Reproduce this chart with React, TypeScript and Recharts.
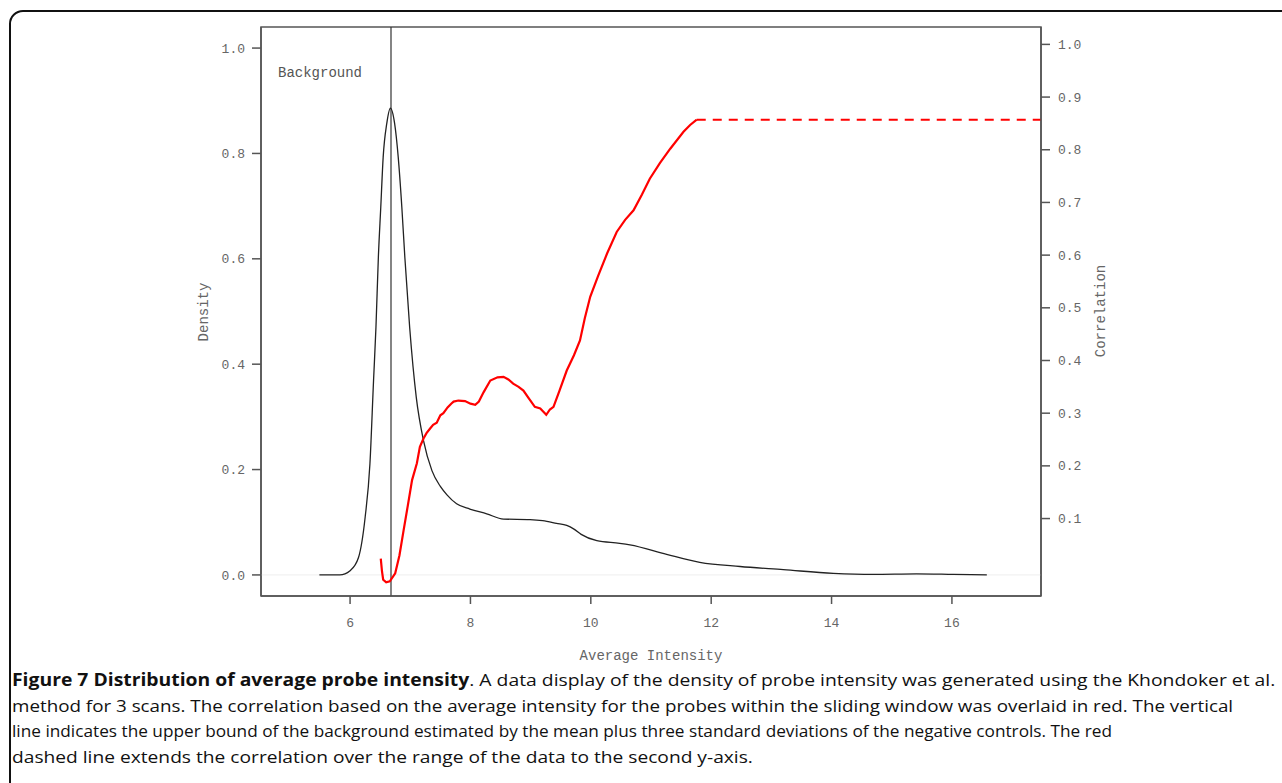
import { LineChart, Line, XAxis, YAxis, ReferenceLine, ReferenceArea } from "recharts";

// density curve (left axis)
const densityX = [5.49, 5.83, 6.0, 6.14, 6.25, 6.33, 6.39, 6.43, 6.47, 6.51, 6.55, 6.61, 6.67, 6.74, 6.8, 6.86, 6.91, 6.99, 7.1, 7.22, 7.36, 7.5, 7.61, 7.77, 7.99, 8.27, 8.55, 8.99, 9.2, 9.43, 9.6, 9.72, 9.84, 10.1, 10.48, 10.65, 11.26, 11.81, 12.48, 13.2, 14.03, 14.69, 15.41, 16.02, 16.58];
const densityY = [0, 0, 0.008, 0.033, 0.109, 0.211, 0.369, 0.47, 0.603, 0.698, 0.793, 0.857, 0.886, 0.857, 0.793, 0.698, 0.603, 0.47, 0.337, 0.255, 0.198, 0.168, 0.152, 0.135, 0.125, 0.116, 0.106, 0.105, 0.103, 0.098, 0.094, 0.087, 0.077, 0.065, 0.06, 0.057, 0.039, 0.024, 0.016, 0.01, 0.003, 0.001, 0.002, 0.001, 0];

// sliding-window correlation (right axis)
const corrX = [6.51, 6.53, 6.55, 6.6, 6.66, 6.75, 6.82, 6.89, 6.96, 7.03, 7.11, 7.16, 7.22, 7.27, 7.33, 7.38, 7.44, 7.5, 7.55, 7.62, 7.68, 7.72, 7.8, 7.91, 8.0, 8.08, 8.14, 8.22, 8.33, 8.45, 8.55, 8.63, 8.71, 8.8, 8.88, 8.97, 9.07, 9.16, 9.26, 9.32, 9.38, 9.48, 9.6, 9.72, 9.82, 9.9, 9.99, 10.12, 10.27, 10.43, 10.57, 10.71, 10.85, 10.98, 11.15, 11.32, 11.54, 11.65, 11.76];
const corrY = [0.024, 0.0, -0.016, -0.021, -0.019, -0.004, 0.03, 0.078, 0.125, 0.173, 0.205, 0.236, 0.252, 0.262, 0.271, 0.278, 0.282, 0.296, 0.3, 0.311, 0.318, 0.322, 0.324, 0.323, 0.318, 0.316, 0.322, 0.34, 0.362, 0.368, 0.369, 0.364, 0.356, 0.35, 0.343, 0.328, 0.312, 0.309, 0.297, 0.307, 0.312, 0.343, 0.381, 0.41, 0.438, 0.48, 0.521, 0.56, 0.603, 0.644, 0.667, 0.685, 0.715, 0.745, 0.775, 0.802, 0.834, 0.847, 0.857];

// dashed extension to the right edge
const extX = [11.76, 17.48];
const extY = [0.857, 0.857];

const xTicks = [6, 8, 10, 12, 14, 16];
const densityTicks = [0, 0.2, 0.4, 0.6, 0.8, 1.0];
const corrTicks = [0.1, 0.2, 0.3, 0.4, 0.5, 0.6, 0.7, 0.8, 0.9, 1.0];
const backgroundCut = 6.68;

const captionLines = [
  "method for 3 scans. The correlation based on the average intensity for the probes within the sliding window was overlaid in red. The vertical",
  "line indicates the upper bound of the background estimated by the mean plus three standard deviations of the negative controls. The red",
  "dashed line extends the correlation over the range of the data to the second y-axis.",
];

const densityData = densityX.map((x, i) => ({ x, y: densityY[i] }));
const corrData = corrX.map((x, i) => ({ x, y: corrY[i] }));
const extData = extX.map((x, i) => ({ x, y: extY[i] }));

const mono = "'Liberation Mono', 'DejaVu Sans Mono', monospace";
const tickStyle = { fontFamily: mono, fontSize: 13, fill: "#666" };

const lineStyle = (top: number, sx: number) => ({
  position: "absolute" as const,
  left: 12,
  top,
  transform: `scaleX(${sx})`,
  transformOrigin: "left center",
  whiteSpace: "nowrap" as const,
});

export default function App() {
  return (
    <div style={{ position: "fixed", left: 0, top: 0, width: 1282, height: 783, overflow: "hidden", background: "#fff" }}>
      <div
        style={{
          position: "absolute",
          left: 9,
          top: 10,
          width: 1320,
          height: 820,
          border: "2px solid #111",
          borderRadius: 14,
        }}
      />
      <div style={{ position: "absolute", left: 0, top: 0 }}>
        <LineChart width={1282} height={660} margin={{ top: 27, right: 181, left: 201, bottom: 24 }}>
          <XAxis
            dataKey="x"
            type="number"
            domain={[4.52, 17.48]}
            allowDataOverflow
            ticks={xTicks}
            tickSize={8}
            tickMargin={14}
            height={40}
            stroke="#555"
            strokeWidth={1.5}
            tick={tickStyle}
          />
          <YAxis
            yAxisId="d"
            type="number"
            domain={[-0.04, 1.04]}
            allowDataOverflow
            ticks={densityTicks}
            tickFormatter={(v) => v.toFixed(1)}
            tickSize={9}
            tickMargin={7}
            width={60}
            stroke="#555"
            strokeWidth={1.5}
            tick={tickStyle}
          />
          <YAxis
            yAxisId="c"
            orientation="right"
            type="number"
            domain={[-0.047, 1.033]}
            allowDataOverflow
            ticks={corrTicks}
            tickFormatter={(v) => v.toFixed(1)}
            tickSize={9}
            tickMargin={8}
            width={60}
            stroke="#555"
            strokeWidth={1.5}
            tick={tickStyle}
          />
          <ReferenceArea yAxisId="d" x1={4.52} x2={17.48} y1={-0.04} y2={1.04} fill="none" stroke="#555" strokeWidth={1.5} />
          <ReferenceLine yAxisId="d" y={0} stroke="#eee" strokeWidth={1} />
          <ReferenceLine yAxisId="d" x={backgroundCut} stroke="#333" strokeWidth={1.2} />
          <Line
            yAxisId="d"
            data={densityData}
            dataKey="y"
            type="monotone"
            stroke="#222"
            strokeWidth={1.3}
            dot={false}
            isAnimationActive={false}
          />
          <Line
            yAxisId="c"
            data={corrData}
            dataKey="y"
            type="linear"
            stroke="#ff0000"
            strokeWidth={2.2}
            dot={false}
            isAnimationActive={false}
          />
          <Line
            yAxisId="c"
            data={extData}
            dataKey="y"
            type="linear"
            stroke="#ff0000"
            strokeWidth={2.2}
            strokeDasharray="9 7"
            dot={false}
            isAnimationActive={false}
          />
        </LineChart>
      </div>
      <div style={{ position: "absolute", left: 278, top: 73, transform: "translateY(-50%)", fontFamily: mono, fontSize: 14, color: "#555", whiteSpace: "nowrap" }}>
        Background
      </div>
      <div style={{ position: "absolute", left: 204, top: 312, transform: "translate(-50%,-50%) rotate(-90deg)", fontFamily: mono, fontSize: 14, color: "#666", whiteSpace: "nowrap" }}>
        Density
      </div>
      <div style={{ position: "absolute", left: 1101, top: 311, transform: "translate(-50%,-50%) rotate(-90deg)", fontFamily: mono, fontSize: 14, color: "#666", whiteSpace: "nowrap" }}>
        Correlation
      </div>
      <div style={{ position: "absolute", left: 651, top: 656, transform: "translate(-50%,-50%)", fontFamily: mono, fontSize: 14, color: "#666", whiteSpace: "nowrap" }}>
        Average Intensity
      </div>
      <div
        style={{
          position: "absolute",
          left: 0,
          top: 0,
          fontFamily: "'Open Sans', sans-serif",
          fontSize: 17,
          lineHeight: "25.7px",
          color: "#111",
        }}
      >
        <div style={lineStyle(667, 1.137)}>
          <b>Figure 7 Distribution of average probe intensity</b>. A data display of the density of probe intensity was generated using the Khondoker et al.
        </div>
        <div style={lineStyle(692.5, 1.105)}>{captionLines[0]}</div>
        <div style={lineStyle(718.2, 1.013)}>{captionLines[1]}</div>
        <div style={lineStyle(744, 1.128)}>{captionLines[2]}</div>
      </div>
    </div>
  );
}
